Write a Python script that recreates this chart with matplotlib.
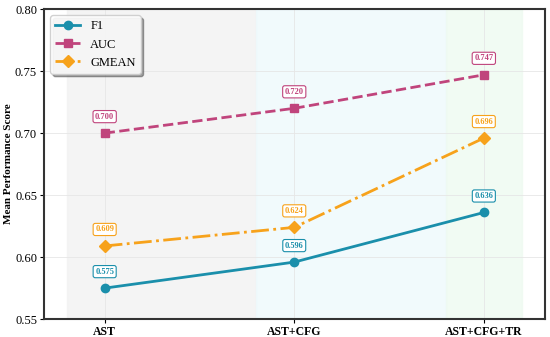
import numpy as np
import matplotlib.pyplot as plt

plt.rcParams['font.family'] = ['Liberation Serif', 'DejaVu Serif']

# data
stages = ['AST', 'AST+CFG', 'AST+CFG+TR']
f1 = [0.575, 0.596, 0.636]
auc = [0.700, 0.720, 0.747]
gmean = [0.609, 0.624, 0.696]

fig, ax = plt.subplots(figsize=(5.5, 3.37), dpi=100)
x = np.arange(len(stages))

# shaded stage regions
ax.axvspan(-0.2, 0.8, color='#f2f2f2', alpha=0.8, zorder=0)
ax.axvspan(0.8, 1.8, color='#eef9fc', alpha=0.8, zorder=0)
ax.axvspan(1.8, 2.2, color='#eefaf1', alpha=0.8, zorder=0)

series = [
    ('F1', f1, '#1a8fab', '-', 'o'),
    ('AUC', auc, '#c0447c', '--', 's'),
    ('GMEAN', gmean, '#f7a21b', '-.', 'D'),
]
for name, vals, col, ls, mk in series:
    ax.plot(x, vals, color=col, linestyle=ls, marker=mk, linewidth=2,
            markersize=6, label=name, zorder=3)
    for xi, v in zip(x, vals):
        ax.annotate(f'{v:.3f}', (xi, v), xytext=(0, 9), textcoords='offset points',
                    ha='center', va='bottom', fontsize=6, fontweight='bold', color=col,
                    bbox=dict(boxstyle='round,pad=0.25', fc='white', ec=col, lw=0.8),
                    zorder=4)

ax.set_xlim(-0.32, 2.32)
ax.set_ylim(0.55, 0.80)
ax.set_xticks(x)
ax.set_xticklabels(stages, fontweight='bold', fontsize=8.5)
ax.set_yticks([0.55, 0.60, 0.65, 0.70, 0.75, 0.80])
ax.tick_params(axis='y', labelsize=9, length=3, pad=2)
ax.tick_params(axis='x', length=3, pad=2)
ax.set_ylabel('Mean Performance Score', fontweight='bold', fontsize=8)
ax.yaxis.set_label_coords(-0.062, 0.5)
ax.grid(True, color='#e6e6e6', linewidth=0.6, zorder=1)
ax.set_axisbelow(True)
for sp in ax.spines.values():
    sp.set_linewidth(1.5)
    sp.set_color('#333333')

ax.legend(loc='upper left', fontsize=9, frameon=True, fancybox=True, shadow=True,
          framealpha=0.9)

fig.subplots_adjust(left=0.08, right=0.99, top=0.973, bottom=0.053)
fig.savefig('out.png', dpi=100)
